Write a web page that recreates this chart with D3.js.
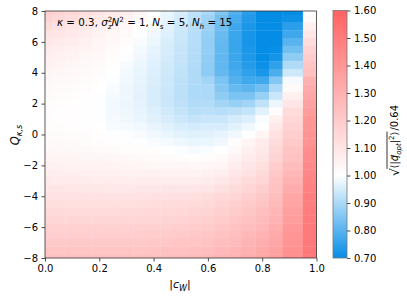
<!DOCTYPE html>
<html>
<head>
<meta charset="utf-8">
<script src="https://cdn.jsdelivr.net/npm/d3@7"></script>
<style>
  body { margin: 0; background: #fff; }
  text { font-family: "DejaVu Sans", sans-serif; fill: #000; }
</style>
</head>
<body>
<script>
// |c_W| column positions and Q rows (top to bottom)
const cwVals = [0, 0.05, 0.1, 0.15, 0.2, 0.25, 0.3, 0.35, 0.4, 0.45, 0.5, 0.55, 0.6, 0.65, 0.7, 0.75, 0.8, 0.85, 0.9, 1.0];
const qVals = [8, 7.5, 7, 6.5, 6, 5.5, 5, 4.5, 4, 3.5, 3, 2.5, 2, 1.5, 1, 0.5, 0,
               -0.5, -1, -1.5, -2, -2.5, -3, -3.5, -4, -4.5, -5, -5.5, -6, -6.5, -7, -7.5, -8];

// sqrt(<|q_opt|^2>)/0.64, one row per qVals entry
const ratio = [
  [1.19,1.17,1.15,1.125,1.10,1.085,1.065,1.04,1.005,0.975,0.955,0.925,0.90,0.853,0.794,0.747,0.70,0.70,0.70,1.00],
  [1.17,1.15,1.13,1.11,1.085,1.07,1.05,1.025,0.995,0.97,0.948,0.92,0.885,0.835,0.78,0.735,0.70,0.70,0.71,1.02],
  [1.135,1.12,1.10,1.085,1.065,1.05,1.03,1.005,0.988,0.965,0.94,0.915,0.88,0.825,0.77,0.725,0.70,0.70,0.745,1.06],
  [1.11,1.10,1.085,1.07,1.05,1.035,1.018,0.998,0.982,0.96,0.937,0.912,0.875,0.82,0.765,0.722,0.70,0.70,0.77,1.09],
  [1.09,1.08,1.07,1.055,1.04,1.025,1.01,0.992,0.976,0.955,0.935,0.912,0.872,0.815,0.762,0.722,0.70,0.70,0.80,1.13],
  [1.075,1.065,1.055,1.045,1.03,1.017,1.003,0.986,0.97,0.95,0.932,0.91,0.87,0.812,0.762,0.725,0.70,0.705,0.83,1.17],
  [1.06,1.055,1.045,1.035,1.025,1.01,0.996,0.982,0.966,0.948,0.93,0.908,0.868,0.81,0.765,0.73,0.70,0.72,0.865,1.20],
  [1.05,1.045,1.035,1.027,1.017,1.005,0.99,0.977,0.962,0.945,0.928,0.906,0.866,0.81,0.77,0.74,0.71,0.75,0.905,1.22],
  [1.04,1.035,1.028,1.02,1.01,1.0,0.986,0.973,0.959,0.943,0.926,0.905,0.866,0.815,0.78,0.752,0.725,0.785,0.94,1.24],
  [1.032,1.028,1.022,1.015,1.006,0.997,0.983,0.97,0.956,0.94,0.922,0.904,0.888,0.841,0.794,0.771,0.771,0.853,0.988,1.30],
  [1.025,1.02,1.016,1.01,1.0,0.993,0.98,0.968,0.953,0.937,0.919,0.902,0.90,0.853,0.818,0.806,0.829,0.90,1.02,1.32],
  [1.018,1.015,1.012,1.006,0.998,0.988,0.978,0.967,0.952,0.936,0.918,0.902,0.90,0.865,0.841,0.841,0.876,0.935,1.057,1.34],
  [1.012,1.01,1.008,1.004,0.997,0.985,0.977,0.968,0.953,0.938,0.922,0.906,0.906,0.888,0.876,0.888,0.924,0.976,1.094,1.36],
  [1.01,1.008,1.006,1.003,0.997,0.985,0.978,0.97,0.958,0.944,0.93,0.915,0.918,0.912,0.918,0.929,0.965,1.011,1.132,1.377],
  [1.01,1.008,1.006,1.004,0.998,0.987,0.982,0.975,0.964,0.952,0.94,0.93,0.935,0.935,0.947,0.959,0.994,1.057,1.151,1.396],
  [1.012,1.01,1.008,1.006,1.0,0.99,0.988,0.983,0.973,0.963,0.955,0.948,0.953,0.953,0.965,0.982,1.0,1.087,1.17,1.40],
  [1.015,1.014,1.012,1.01,1.005,0.998,0.995,0.99,0.983,0.975,0.967,0.962,0.965,0.971,0.982,1.0,1.038,1.113,1.189,1.415],
  [1.02,1.02,1.018,1.015,1.012,1.007,1.003,0.998,0.993,0.987,0.98,0.975,0.976,0.982,1.011,1.038,1.075,1.132,1.208,1.415],
  [1.03,1.028,1.027,1.025,1.022,1.018,1.013,1.01,1.006,1.0,0.995,0.99,0.994,1.0,1.026,1.057,1.087,1.151,1.226,1.434],
  [1.04,1.038,1.037,1.035,1.033,1.03,1.027,1.024,1.02,1.015,1.012,1.008,1.011,1.019,1.049,1.075,1.10,1.17,1.235,1.44],
  [1.052,1.05,1.048,1.047,1.045,1.043,1.04,1.038,1.035,1.032,1.03,1.027,1.03,1.04,1.07,1.095,1.12,1.19,1.255,1.45],
  [1.066,1.064,1.062,1.06,1.058,1.056,1.055,1.054,1.052,1.05,1.048,1.047,1.052,1.065,1.09,1.115,1.14,1.205,1.275,1.46],
  [1.08,1.078,1.077,1.075,1.073,1.072,1.071,1.07,1.07,1.07,1.07,1.07,1.075,1.09,1.11,1.135,1.16,1.22,1.295,1.47],
  [1.095,1.094,1.092,1.091,1.09,1.089,1.089,1.09,1.092,1.094,1.095,1.097,1.10,1.117,1.135,1.16,1.185,1.235,1.318,1.48],
  [1.11,1.11,1.109,1.108,1.107,1.107,1.108,1.11,1.113,1.116,1.12,1.124,1.13,1.145,1.16,1.185,1.21,1.25,1.34,1.49],
  [1.125,1.125,1.124,1.123,1.123,1.123,1.124,1.126,1.129,1.132,1.136,1.141,1.148,1.163,1.178,1.202,1.227,1.265,1.352,1.494],
  [1.14,1.14,1.139,1.139,1.139,1.139,1.14,1.142,1.145,1.148,1.152,1.158,1.165,1.18,1.195,1.219,1.243,1.28,1.364,1.498],
  [1.156,1.156,1.155,1.155,1.155,1.155,1.156,1.158,1.161,1.165,1.169,1.175,1.183,1.198,1.213,1.236,1.26,1.296,1.376,1.502],
  [1.172,1.172,1.171,1.171,1.171,1.171,1.172,1.174,1.177,1.181,1.186,1.192,1.20,1.215,1.23,1.253,1.276,1.31,1.388,1.506],
  [1.189,1.189,1.188,1.188,1.188,1.188,1.189,1.191,1.194,1.198,1.203,1.209,1.218,1.233,1.248,1.27,1.292,1.325,1.40,1.51],
  [1.205,1.205,1.205,1.205,1.205,1.205,1.206,1.208,1.211,1.215,1.22,1.227,1.235,1.25,1.265,1.287,1.308,1.34,1.41,1.513],
  [1.222,1.222,1.222,1.222,1.222,1.222,1.223,1.225,1.228,1.232,1.237,1.244,1.252,1.268,1.283,1.303,1.324,1.355,1.42,1.517],
  [1.24,1.24,1.24,1.24,1.24,1.24,1.24,1.243,1.246,1.25,1.255,1.262,1.27,1.285,1.30,1.32,1.34,1.37,1.43,1.52]
];

const xTicks = [0, 0.2, 0.4, 0.6, 0.8, 1.0];
const yTicks = [-8, -6, -4, -2, 0, 2, 4, 6, 8];
const cbTicks = [0.7, 0.8, 0.9, 1.0, 1.1, 1.2, 1.3, 1.4, 1.5, 1.6];

const W = 407, H = 298;
const svg = d3.select("body").append("svg").attr("width", W).attr("height", H);

const x = d3.scaleLinear().domain([0, 1]).range([45, 316.5]);
const y = d3.scaleLinear().domain([-8, 8]).range([258, 11]);
const color = d3.scaleLinear().domain([0.7, 1.0, 1.6])
                .range(["#058de6", "#ffffff", "#ff6262"]).clamp(true);

// cell edges halfway between sample points (pcolormesh 'nearest')
function edges(v) {
  const e = [v[0] - (v[1] - v[0]) / 2];
  for (let i = 1; i < v.length; i++) e.push((v[i - 1] + v[i]) / 2);
  e.push(v[v.length - 1] + (v[v.length - 1] - v[v.length - 2]) / 2);
  return e;
}
const xe = edges(cwVals), ye = edges(qVals);

svg.append("clipPath").attr("id", "plotclip")
   .append("rect").attr("x", x(0)).attr("y", y(8))
   .attr("width", x(1) - x(0)).attr("height", y(-8) - y(8));

const cells = [];
ratio.forEach((row, i) => row.forEach((v, j) => cells.push({ i, j, v })));

svg.append("g").attr("clip-path", "url(#plotclip)")
   .selectAll("rect").data(cells).enter().append("rect")
   .attr("x", d => x(xe[d.j]))
   .attr("width", d => x(xe[d.j + 1]) - x(xe[d.j]) + 0.3)
   .attr("y", d => Math.min(y(ye[d.i]), y(ye[d.i + 1])))
   .attr("height", d => Math.abs(y(ye[d.i + 1]) - y(ye[d.i])) + 0.3)
   .attr("fill", d => color(d.v));

// axes
const minus = s => String(s).replace("-", "\u2212");
const gx = svg.append("g").attr("transform", `translate(0,${y(-8)})`)
   .call(d3.axisBottom(x).tickValues(xTicks).tickSize(3.5).tickPadding(3.5).tickFormat(d3.format(".1f")));
const gy = svg.append("g").attr("transform", `translate(${x(0)},0)`)
   .call(d3.axisLeft(y).tickValues(yTicks).tickSize(3.5).tickPadding(3.5).tickFormat(minus));
[gx, gy].forEach(g => {
  g.select(".domain").remove();
  g.selectAll("text").attr("font-size", 10).attr("font-family", "DejaVu Sans").attr("fill", "#000");
  g.selectAll("line").attr("stroke", "#222").attr("stroke-width", 0.8);
});

svg.append("rect").attr("x", x(0)).attr("y", y(8))
   .attr("width", x(1) - x(0)).attr("height", y(-8) - y(8))
   .attr("fill", "none").attr("stroke", "#333").attr("stroke-width", 0.8);

// annotation
const ann = svg.append("text").attr("x", 57).attr("y", 26).attr("font-size", 10.3);
ann.append("tspan").attr("font-style", "italic").text("\u03ba");
ann.append("tspan").text(" = 0.3, ");
ann.append("tspan").attr("font-style", "italic").text("\u03c3");
ann.append("tspan").attr("font-size", 7.2).attr("dy", -4).text("2");
ann.append("tspan").attr("font-size", 7.2).attr("font-style", "italic").attr("dx", -4.5).attr("dy", 6.5).text("z");
ann.append("tspan").attr("font-style", "italic").attr("dy", -2.5).text("N");
ann.append("tspan").attr("font-size", 7.2).attr("dy", -4).text("2");
ann.append("tspan").attr("dy", 4).text(" = 1, ");
ann.append("tspan").attr("font-style", "italic").text("N");
ann.append("tspan").attr("font-size", 7.2).attr("font-style", "italic").attr("dy", 2.5).text("s");
ann.append("tspan").attr("dy", -2.5).text(" = 5, ");
ann.append("tspan").attr("font-style", "italic").text("N");
ann.append("tspan").attr("font-size", 7.2).attr("font-style", "italic").attr("dy", 2.5).text("h");
ann.append("tspan").attr("dy", -2.5).text(" = 15");

// axis labels
const yl = svg.append("text").attr("transform", "translate(19,135) rotate(-90)")
   .attr("text-anchor", "middle").attr("font-size", 11.5);
yl.append("tspan").attr("font-style", "italic").text("Q");
yl.append("tspan").attr("font-size", 8).attr("font-style", "italic").attr("dy", 2.5).text("\u03ba,s");

const xl = svg.append("text").attr("x", 180).attr("y", 288)
   .attr("text-anchor", "middle").attr("font-size", 11);
xl.append("tspan").text("|");
xl.append("tspan").attr("font-style", "italic").text("c");
xl.append("tspan").attr("font-size", 8).attr("font-style", "italic").attr("dy", 2.5).text("W");
xl.append("tspan").attr("dy", -2.5).text("|");

// colorbar
const cb = { x: 333, w: 14 };
const cy = d3.scaleLinear().domain([0.7, 1.6]).range([258, 10.5]);
const grad = svg.append("defs").append("linearGradient").attr("id", "cbgrad")
   .attr("x1", 0).attr("y1", 1).attr("x2", 0).attr("y2", 0);
color.domain().forEach(v => grad.append("stop")
   .attr("offset", (v - 0.7) / 0.9).attr("stop-color", color(v)));
svg.append("rect").attr("x", cb.x).attr("y", cy(1.6)).attr("width", cb.w)
   .attr("height", cy(0.7) - cy(1.6)).attr("fill", "url(#cbgrad)")
   .attr("stroke", "#777").attr("stroke-width", 0.8);
const gc = svg.append("g").attr("transform", `translate(${cb.x + cb.w},0)`)
   .call(d3.axisRight(cy).tickValues(cbTicks).tickSize(3.5).tickPadding(3.5).tickFormat(d3.format(".2f")));
gc.select(".domain").remove();
gc.selectAll("text").attr("font-size", 10).attr("font-family", "DejaVu Sans").attr("fill", "#000");
gc.selectAll("line").attr("stroke", "#222").attr("stroke-width", 0.8);

// colorbar label: sqrt(<|q_opt|^2>) /0.64
const lab = svg.append("g").attr("transform", "translate(398,141) rotate(-90)");
const rad = lab.append("text").attr("font-size", 12).attr("y", 1).text("\u221a");
const body = lab.append("text").attr("font-size", 10);
body.append("tspan").text("\u27e8|");
body.append("tspan").attr("font-style", "italic").text("q\u20d7");
body.append("tspan").attr("font-size", 7).attr("font-style", "italic").attr("dy", 2.5).text("opt");
body.append("tspan").attr("dy", -2.5).text("|");
body.append("tspan").attr("font-size", 7).attr("dy", -4).text("2");
body.append("tspan").attr("dy", 4).text("\u27e9");
const tail = lab.append("text").attr("font-size", 10).text(" /0.64");
const rw = rad.node().getComputedTextLength();
const bw = body.node().getComputedTextLength();
const tw = tail.node().getComputedTextLength();
const x0 = -(rw + bw + tw) / 2;
rad.attr("x", x0);
body.attr("x", x0 + rw);
tail.attr("x", x0 + rw + bw + 1);
lab.append("line").attr("x1", x0 + rw - 0.5).attr("x2", x0 + rw + bw)
   .attr("y1", -11).attr("y2", -11).attr("stroke", "#000").attr("stroke-width", 0.8);
</script>
</body>
</html>
